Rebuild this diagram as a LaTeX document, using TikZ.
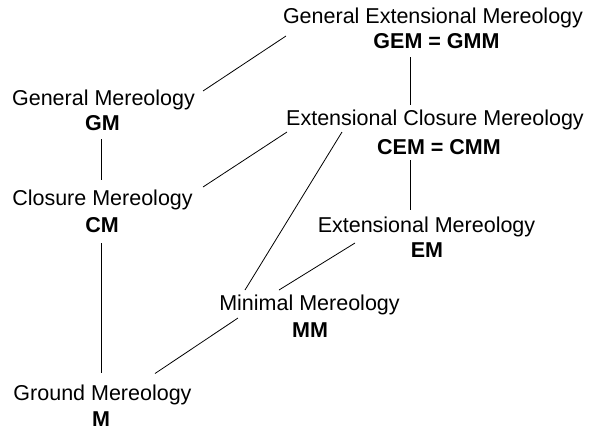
\documentclass[tikz,border=0pt]{standalone}
\usepackage{fontspec}
\setmainfont{Liberation Sans}
\begin{document}
\begin{tikzpicture}[x=1pt,y=-1pt,
  ttl/.style={inner sep=0pt,anchor=base,font=\fontsize{21.5}{25}\selectfont},
  abbr/.style={inner sep=0pt,anchor=base,text depth=0pt,font=\fontsize{21.5}{25}\selectfont\bfseries},
  link/.style={draw=black,line width=0.8pt}]
\useasboundingbox (0,0) rectangle (591,429);
% titles
\node[ttl] (gem) at (433,23) {General Extensional Mereology};
\node[abbr] (gemA) at (436.5,48) {GEM = GMM};
\node[ttl] (gm) at (103.5,105) {General Mereology};
\node[abbr] (gmA) at (102.5,130) {GM};
\node[ttl] (cem) at (435,125) {Extensional Closure Mereology};
\node[abbr] (cemA) at (439,154) {CEM = CMM};
\node[ttl] (cm) at (102.5,205) {Closure Mereology};
\node[abbr] (cmA) at (102,232) {CM};
\node[ttl] (em) at (426.5,232) {Extensional Mereology};
\node[abbr] (emA) at (427,257) {EM};
\node[ttl] (mm) at (309.5,310) {Minimal Mereology};
\node[abbr] (mmA) at (310,337) {MM};
\node[ttl] (m) at (102.5,400) {Ground Mereology};
\node[abbr] (mA) at (101,426.5) {M};
% connectors
\draw[link] ([shift={(-147,13)}]gem.base) -- ([shift={(99.5,-14)}]gm.base);
\draw[link] ([shift={(-26.5,9)}]gemA.base) -- ([shift={(-25,-20)}]cem.base);
\draw[link] ([shift={(-1.5,9)}]gmA.base) -- ([shift={(-1.5,-25)}]cm.base);
\draw[link] ([shift={(-148,7)}]cem.base) -- ([shift={(100.5,-18)}]cm.base);
\draw[link] ([shift={(-93,7)}]cem.base) -- ([shift={(-64.5,-20)}]mm.base);
\draw[link] ([shift={(-29,6)}]cemA.base) -- ([shift={(-16.5,-22)}]em.base);
\draw[link] ([shift={(-71.5,11)}]em.base) -- ([shift={(-30.5,-20)}]mm.base);
\draw[link] ([shift={(-1,11)}]cmA.base) -- ([shift={(-1.5,-27)}]m.base);
\draw[link] ([shift={(-71.5,8)}]mm.base) -- ([shift={(52.5,-26.5)}]m.base);
\end{tikzpicture}
\end{document}
